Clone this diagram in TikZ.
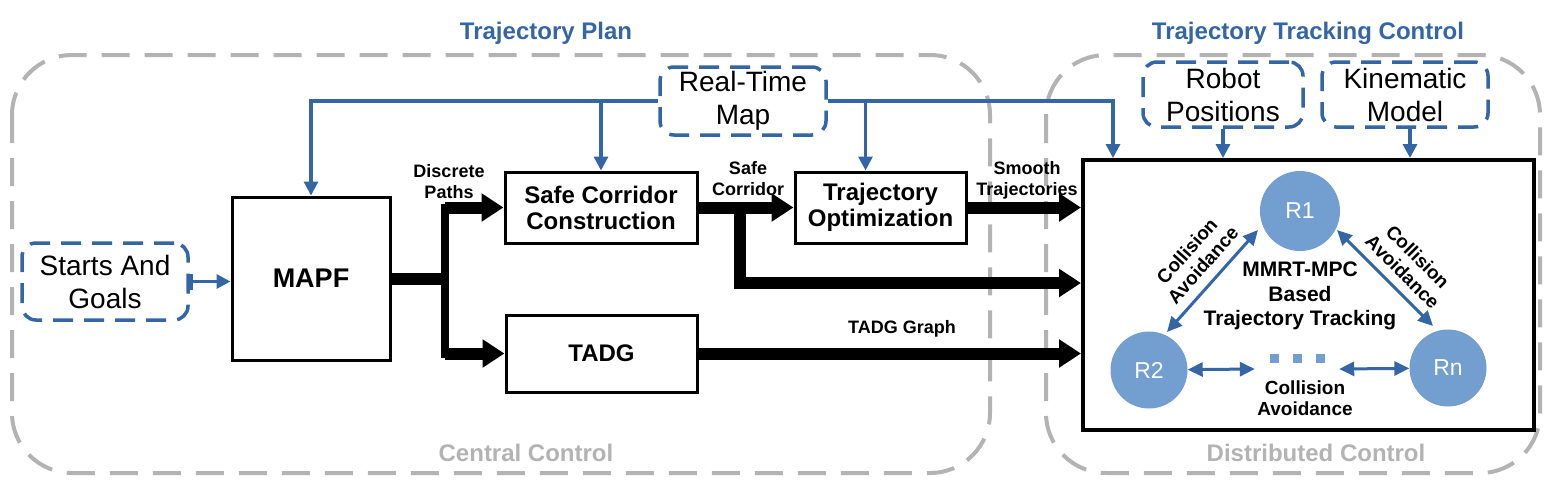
\documentclass[tikz,border=0pt]{standalone}
\usepackage{fontspec}
\setmainfont{Liberation Sans}
\usepackage{tikz}
\usetikzlibrary{calc, positioning, arrows.meta}
\usepackage{xcolor}
\definecolor{planblue}{HTML}{3465A4}
\definecolor{zonegray}{HTML}{B3B3B3}
\definecolor{robotblue}{HTML}{729FCF}

\begin{document}
\begin{tikzpicture}[x=1pt, y=-1pt,
  zone/.style={draw=zonegray, line width=4pt, dash pattern=on 28pt off 15pt,
               rounded corners=60pt},
  zonetitle/.style={font=\fontsize{24}{28}\selectfont\bfseries},
  blk/.style={draw, line width=3pt, align=center,
              font=\fontsize{24}{26}\selectfont\bfseries},
  src/.style={draw=planblue, line width=3.5pt, dash pattern=on 20pt off 11pt,
              rounded corners=14pt, align=center, inner sep=0pt,
              font=\fontsize{28}{33}\selectfont},
  lbl/.style={align=center, font=\fontsize{18}{21}\selectfont\bfseries},
  calbl/.style={align=center, font=\fontsize{19}{21.5}\selectfont\bfseries},
  robot/.style={circle, fill=robotblue, minimum size=77pt, inner sep=0pt,
                text=white, font=\fontsize{23}{26}\selectfont},
  feed/.style={draw=planblue, line width=3.2pt, -{Triangle[length=14pt, width=14pt]}},
  dbl/.style={draw=planblue, line width=3pt,
              {Triangle[length=15pt, width=14pt]}-{Triangle[length=15pt, width=14pt]}},
  fat/.style={line width=12pt},
  fatarrow/.style={line width=12pt, -{Triangle[length=22pt, width=27pt]}}
]
  \useasboundingbox (0,0) rectangle (1550,491);

  % zones
  \draw[zone] (12,55) rectangle (990,473);
  \draw[zone] (1046,55) rectangle (1540,473);
  \node[zonetitle, text=planblue] (plantitle) at (546,33) {Trajectory Plan};
  \node[zonetitle, text=planblue] (tracktitle) at (1308,33) {Trajectory Tracking Control};
  \node[zonetitle, text=zonegray] (centraltitle) at (526,453) {Central Control};
  \node[zonetitle, text=zonegray] (distrtitle) at (1316,453) {Distributed Control};

  % inputs
  \node[src, minimum width=166pt, minimum height=68pt] (rtm) at (743,101) {Real-Time\\Map};
  \node[src, minimum width=160pt, minimum height=65pt] (robpos) at (1223,94.5) {Robot\\Positions};
  \node[src, minimum width=166pt, minimum height=65pt] (kin) at (1405,94.5) {Kinematic\\Model};
  \node[src, minimum width=166pt, minimum height=77pt] (sag) at (105,281.5) {Starts And\\Goals};

  % planning blocks
  \node[blk, minimum width=158pt, minimum height=163pt,
        font=\fontsize{27}{30}\selectfont\bfseries] (mapf) at (311,278.5) {MAPF};
  \node[blk, minimum width=192pt, minimum height=71pt] (scc) at (601,207.5) {Safe Corridor\\Construction};
  \node[blk, minimum width=171pt, minimum height=71pt, right=95pt of scc] (topt) {Trajectory\\Optimization};
  \node[blk, minimum width=191pt, minimum height=77pt] (tadg) at (601.5,353.5) {TADG};

  % tracking block
  \node[draw, line width=4pt, minimum width=451pt, minimum height=270pt] (trk) at (1308.5,295) {};
  \node[robot, minimum width=80pt, minimum height=75pt] (r1) at (1300,211) {R1};
  \node[robot] (r2) at (1149,370) {R2};
  \node[robot] (rn) at (1448,368) {Rn};
  \node[align=center, font=\fontsize{21}{24.5}\selectfont\bfseries] (mpc) at (1300,296)
    {MMRT-MPC\\Based\\Trajectory Tracking};
  \node[minimum width=84pt, minimum height=10pt, inner sep=0pt] (dots) at (1297,369) {};
  \foreach \dx in {-23,0,23}
    \fill[robotblue] ($(dots)+(\dx-4.5,-15.5)$) rectangle ++(9,9);

  % blue feeds
  \draw[feed] (rtm.west) -| (mapf.north);
  \draw[feed] (rtm.west -| scc.north) -- (scc.north);
  \draw[feed] ([xshift=-15pt]topt.north |- rtm.east) -- ([xshift=-15pt]topt.north);
  \draw[feed] (rtm.east) -| ([xshift=32pt]trk.north west);
  \draw[feed] (robpos.south) -- (robpos.south |- trk.north);
  \draw[feed] ([xshift=5pt]kin.south) -- ([xshift=5pt]kin.south |- trk.north);
  \draw[feed, {Bar[width=16pt]}-{Triangle[length=14pt, width=14pt]}]
    (sag.east) -- (sag.east -| mapf.west);

  % data flow
  \coordinate (split) at (445,281);
  \draw[fat] (mapf.east) -- (mapf.east -| split);
  \draw[line width=8pt, line cap=rect] (split |- scc.west) -- (split |- tadg.west);
  \draw[fatarrow] (split |- scc.west) -- (scc.west);
  \draw[fatarrow] (split |- tadg.west) -- (tadg.west);
  \draw[fatarrow] (scc.east) -- (topt.west);
  \coordinate (low) at (740,283);
  \draw[fatarrow] (scc.east -| low) |- (low -| trk.west);
  \draw[fatarrow] (topt.east) -- (topt.east -| trk.west);
  \draw[fatarrow] (tadg.east) -- (tadg.east -| trk.west);

  \node[lbl] (dplbl) at (449,182) {Discrete\\Paths};
  \node[lbl] (sclbl) at (748,179) {Safe\\Corridor};
  \node[lbl] (stlbl) at (1027,180) {Smooth\\Trajectories};
  \node[lbl] (tglbl) at (902,329) {TADG Graph};

  % collision avoidance
  \draw[dbl] ($(r2)+(18,-38)$) -- ($(r1)+(-42,19)$)
    node[calbl, pos=0.54, sloped, above=6pt] {Collision\\Avoidance};
  \draw[dbl] ($(r1)+(37,19)$) -- ($(rn)+(-15,-42)$)
    node[calbl, pos=0.56, sloped, above=5pt] {Collision\\Avoidance};
  \draw[dbl] (r2) -- (dots.west);
  \draw[dbl] (dots.east) -- (rn);
  \node[calbl] (calbl) at (1305,398) {Collision\\Avoidance};
\end{tikzpicture}
\end{document}
